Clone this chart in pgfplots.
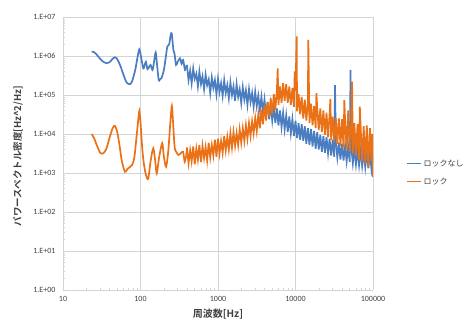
\documentclass[border=0pt]{standalone}
\usepackage{pgfplots}
\pgfplotsset{compat=1.18}
\usepackage{fontspec}
\setmainfont{Carlito}
\newfontfamily\jp{Noto Sans CJK JP}[BoldFont={Noto Sans CJK JP Bold}]
\definecolor{sblue}{HTML}{4A7EC1}
\definecolor{sorange}{HTML}{EB7117}
\definecolor{gridc}{HTML}{D4D4D4}
\definecolor{labc}{HTML}{404040}
\begin{document}
\begin{tikzpicture}
\path[use as bounding box] (0,0) rectangle (466pt,322pt);
\begin{axis}[
  at={(63pt,32pt)}, anchor=south west,
  scale only axis, width=310pt, height=273pt,
  xmode=log, ymode=log,
  xmin=10, xmax=100000, ymin=1, ymax=1e7,
  axis x line*=bottom, axis y line*=left,
  axis line style={gridc, line width=0.8pt},
  grid=major, major grid style={gridc, line width=0.8pt},
  xtick={10,100,1000,10000,100000},
  xticklabels={10,100,1000,10000,100000},
  ytick={1,10,100,1000,10000,100000,1000000,10000000},
  yticklabels={1.E+00,1.E+01,1.E+02,1.E+03,1.E+04,1.E+05,1.E+06,1.E+07},
  major tick length=0pt, minor tick length=2.5pt,
  minor tick style={gridc, line width=0.5pt},
  tick align=inside,
  ticklabel style={font=\fontsize{8}{9}\selectfont, text=labc},
  yticklabel style={xshift=-4pt},
  xticklabel style={yshift=-3pt},
  ylabel={\jp\bfseries パワースペクトル密度[Hz{\textasciicircum}2/Hz]},
  ylabel style={at={(axis description cs:-0.145,0.49)}, anchor=center, font=\fontsize{9.5}{11}\selectfont, text=labc},
  xlabel={\jp\bfseries 周波数[Hz]},
  xlabel style={at={(axis description cs:0.5,-0.09)}, anchor=center, font=\fontsize{10}{12}\selectfont, text=labc},
  legend style={at={(axis description cs:1.107,0.485)}, anchor=north west, draw=none, fill=none,
    font=\jp\fontsize{8}{9}\selectfont, text=labc, row sep=6pt, inner sep=0pt},
  legend cell align=left,
  legend image code/.code={\draw[#1, line width=1.2pt] (0pt,0pt) -- (14pt,0pt);},
]
\addplot[sblue, line width=1.7pt, smooth, forget plot] coordinates {
(23.4,1.29e6) (25.1,1.26e6) (26.9,1.12e6) (29.5,8.9e5) (33.1,7.1e5) (36.3,6.5e5) (39.8,6.9e5) (43.7,8.5e5) (46.8,9.3e5) (50.1,8.3e5) (55.0,5.6e5) (60.3,3.3e5) (66.1,2.1e5) (72.4,1.9e5) (77.6,2.2e5) (85.1,4.2e5) (91.2,8.9e5) (96.6,1.48e6) (102.3,8.9e5) (108.6,4.8e5) (113.5,6.0e5) (117.5,7.1e5) (123.0,4.6e5) (128.8,5.2e5) (134.9,5.9e5) (142.9,4.4e5) (149.6,7.1e5) (157.0,1.23e6) (164.1,5.6e5) (171.8,2.4e5) (177.8,2.5e5) (186.2,2.7e5) (199.5,4.2e5) (211.3,8.9e5) (221.8,1.74e6) (234.4,2.0e6) (245.5,3.5e6) (252.9,3.8e6) (260.0,2.2e6) (266.1,1.41e6) (275.4,1.12e6) (287.1,5.9e5) (302.0,7.1e5) (323.6,8.7e5) (338.8,6.3e5) (354.8,7.9e5) (375.0,4.4e5) (389.0,5.6e5)
};
\addplot[sblue, line width=1.7pt] coordinates {
(389.0,5.6e5)
(398,5.6e5) (417,2.4e5) (437,4.2e5) (457,2.0e5) (479,4.8e5) (501,2.6e5) (525,3.5e5) (550,1.66e5) (575,4.0e5) (603,1.9e5)
(631,3.0e5) (661,1.41e5) (692,3.3e5) (724,1.78e5) (759,2.5e5) (794,1.12e5) (832,2.8e5) (871,1.51e5) (912,2.4e5) (955,1.05e5)
(1000,2.6e5) (1047,1.2e5) (1096,2.0e5) (1148,9.5e4) (1202,2.4e5) (1259,1.12e5) (1318,1.78e5) (1380,8.3e4) (1445,2.1e5) (1514,1.0e5)
(1585,1.66e5) (1660,7.1e4) (1738,1.9e5) (1820,8.9e4) (1905,1.41e5) (1995,6.3e4) (2089,1.58e5) (2188,7.6e4) (2291,1.32e5) (2399,5.6e4)
(2512,1.41e5) (2630,6.6e4) (2754,1.12e5) (2884,5.0e4) (3020,1.2e5) (3162,5.2e4) (3311,9.5e4) (3467,4.2e4) (3631,8.9e4) (3802,3.5e4)
(3981,7.6e4) (4169,2.8e4) (4365,6.6e4) (4571,2.4e4) (4786,5.6e4) (5012,2.2e4) (5248,5.0e4) (5495,1.9e4) (5754,4.5e4) (6026,1.66e4)
(6310,4.0e4) (6607,1.51e4) (6918,3.5e4) (7244,1.32e4) (7586,3.0e4) (7943,1.12e4) (8318,2.8e4) (8710,1.05e4) (9120,2.4e4) (9550,8.9e3)
(10000,2.2e4) (10471,7.9e3) (10965,1.9e4) (11482,7.1e3) (12023,1.78e4) (12589,6.6e3) (13183,1.58e4) (13804,5.6e3) (14454,1.41e4) (15136,5.2e3)
(15849,1.32e4) (16596,4.8e3) (17378,1.2e4) (18197,4.2e3) (19055,1.12e4) (19953,4.0e3) (20893,9.5e3) (21878,3.5e3) (22909,8.9e3) (23988,3.3e3)
(25119,8.3e3) (26303,3.2e3) (27542,7.6e3) (28840,2.8e3) (30200,7.1e3) (31623,2.6e3) (32360,1.8e5) (33113,6.3e3) (34674,2.5e3) (36308,6.0e3) (38019,2.2e3)
(39811,5.6e3) (41687,2.1e3) (43652,5.0e3) (45709,2.0e3) (47863,4.8e3) (50119,1.9e3) (51286,4.4e5) (52481,4.5e3) (54954,1.78e3) (57544,4.2e3) (60256,1.66e3)
(63096,4.0e3) (66069,1.58e3) (69183,3.8e3) (72444,1.51e3) (75858,3.5e3) (79433,1.41e3) (83176,3.5e3) (87096,1.32e3) (91201,3.3e3) (95499,1.26e3) (100000,2.8e3)
};
\addlegendentry{ロックなし}
\addplot[sorange, line width=1.7pt, smooth, forget plot] coordinates {
(23.4,1.0e4) (25.1,7.9e3) (27.5,5.0e3) (30.2,3.3e3) (33.1,3.2e3) (36.3,4.2e3) (39.8,7.9e3) (43.7,1.41e4) (46.8,1.62e4) (50.1,1.12e4) (53.7,5.0e3) (57.5,2.0e3) (63.1,1.07e3) (67.6,1.26e3) (72.4,1.41e3) (77.6,1.58e3) (83.2,2.5e3) (89.1,8.9e3) (94.4,2.8e4) (96.6,3.9e4) (100,2.0e4) (104.7,5.0e3) (109.6,1.95e3) (117.5,8.9e2) (125.9,7.2e2) (134.9,2.0e3) (146.2,4.3e3) (154.9,2.0e3) (162.2,9.8e2) (173.8,2.5e3) (190.5,5.8e3) (199.5,2.8e3) (213.8,1.45e3) (229.1,4.0e3) (242.7,2.0e4) (254.1,5.2e4) (263.0,2.0e4) (275.4,4.7e3) (288.4,3.5e3) (309.0,2.9e3) (331.1,3.2e3) (354.8,3.5e3) (371.5,1.95e3) (389.0,2.8e3)
};
\addplot[sorange, line width=1.7pt] coordinates {
(389.0,2.8e3)
(398,4.5e3) (417,1.78e3) (437,3.8e3) (457,2.0e3) (479,4.8e3) (501,1.66e3) (525,4.2e3) (550,2.2e3) (575,5.2e3) (603,1.9e3)
(631,5.0e3) (661,2.4e3) (692,4.6e3) (724,2.1e3) (759,6.0e3) (794,2.5e3) (832,5.2e3) (871,2.8e3) (912,7.1e3) (955,2.6e3)
(1000,7.6e3) (1047,3.2e3) (1096,6.6e3) (1148,3.3e3) (1202,8.9e3) (1259,3.8e3) (1318,8.3e3) (1380,4.0e3) (1445,1.05e4) (1514,4.5e3)
(1585,1.12e4) (1660,5.0e3) (1738,1.05e4) (1820,5.2e3) (1905,1.32e4) (1995,6.0e3) (2089,1.41e4) (2188,6.6e3) (2291,1.66e4) (2399,7.6e3)
(2512,1.9e4) (2630,8.9e3) (2754,2.1e4) (2884,1.05e4) (3020,2.6e4) (3162,1.2e4) (3311,3.2e4) (3467,1.41e4) (3631,4.2e4) (3802,1.78e4)
(3981,5.6e4) (4169,2.2e4) (4365,6.6e4) (4571,2.8e4) (4786,8.3e4) (5012,3.3e4) (5248,1.05e5) (5495,4.2e4) (5754,1.32e5) (5888,4.8e5) (6026,5.6e4)
(6310,1.66e5) (6607,6.3e4) (6918,2.0e5) (7244,7.1e4) (7586,1.9e5) (7943,6.3e4) (8318,1.66e5) (8710,5.6e4) (9120,1.51e5) (9550,5.0e4) (9772,4.0e5)
(10000,1.26e5) (10351,3.2e6) (10471,3.8e4) (10965,1.05e5) (11482,3.2e4) (12023,8.9e4) (12589,2.5e4) (13183,7.6e4) (13804,2.2e4) (14454,6.6e4) (14622,2.6e6) (15136,1.9e4)
(15849,6.0e4) (16596,1.66e4) (17378,5.2e4) (18197,1.41e4) (18621,1.12e5) (19055,4.8e4) (19953,1.26e4) (20893,4.5e4) (21878,1.12e4) (22909,4.0e4) (23988,9.5e3)
(25119,3.5e4) (26303,8.3e3) (27542,3.2e4) (28184,7.9e4) (28840,7.1e3) (30200,2.8e4) (31623,6.3e3) (33113,2.6e4) (34674,5.6e3) (36308,2.5e4) (38019,5.0e3)
(39811,2.4e4) (41687,4.5e3) (42658,7.4e4) (43652,2.2e4) (45709,4.0e3) (47863,4.0e4) (50119,3.5e3) (52481,2.0e4) (53703,2.2e5) (54954,3.3e3) (57544,1.9e4) (60256,2.8e3)
(63096,1.78e4) (66069,2.2e3) (67608,5.0e4) (69183,1.66e4) (72444,2.0e3) (75858,1.58e4) (79433,1.78e3) (83176,1.66e4) (87096,1.41e3) (91201,1.41e4) (95499,2.0e3) (97724,1.0e4) (100000,7.9e2)
};
\addlegendentry{ロック}
\end{axis}
\end{tikzpicture}
\end{document}
